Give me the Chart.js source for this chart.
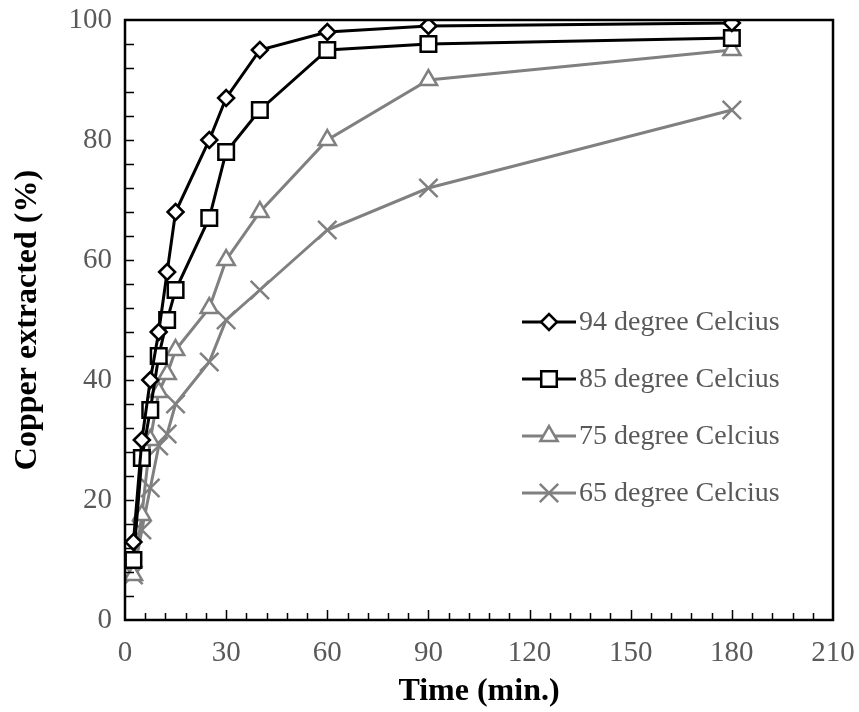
<!DOCTYPE html>
<html>
<head>
<meta charset="utf-8">
<script src="https://cdn.jsdelivr.net/npm/chart.js@4/dist/chart.umd.min.js"></script>
<style>
  html, body { margin: 0; padding: 0; background: #fff; }
  #wrap { width: 859px; height: 712px; }
</style>
</head>
<body>
<div id="wrap"><canvas id="chart"></canvas></div>
<script>
  // Leaching time (min) and copper extracted (%) at each temperature
  const times = [2.5, 5, 7.5, 10, 12.5, 15, 25, 30, 40, 60, 90, 180];
  const cu94 = [13, 30, 40, 48, 58, 68, 80, 87, 95, 98, 99, 99.5];
  const cu85 = [10, 27, 35, 44, 50, 55, 67, 78, 85, 95, 96, 97];
  const cu75 = [7.5, 17.5, 30, 38, 41, 45, 52, 60, 68, 80, 90, 95];
  const cu65 = [7.5, 15, 22, 29, 31, 36, 43, 50, 55, 65, 72, 85];
  const seriesLabels = ["94 degree Celcius", "85 degree Celcius", "75 degree Celcius", "65 degree Celcius"];
  const xTicks = [0, 30, 60, 90, 120, 150, 180, 210];
  const yTicks = [0, 20, 40, 60, 80, 100];

  const serif = "'Liberation Serif', 'Times New Roman', serif";
  const grey = "#808080";
  const labelGrey = "#595959";

  function series(label, values, color, style, radius) {
    return {
      label,
      data: times.map((t, i) => ({ x: t, y: values[i] })),
      borderColor: color,
      borderWidth: 3,
      pointStyle: style,
      pointRadius: radius,
      pointHoverRadius: radius,
      pointBackgroundColor: "#fff",
      pointBorderColor: color,
      pointBorderWidth: 2.5,
      tension: 0
    };
  }

  const datasets = [
    series(seriesLabels[0], cu94, "#000", "rectRot", 8),
    series(seriesLabels[1], cu85, "#000", "rect", 11),
    series(seriesLabels[2], cu75, grey, "triangle", 10),
    series(seriesLabels[3], cu65, grey, "crossRot", 13)
  ];

  // frame around the plot plus inward tick marks
  const framePlugin = {
    id: "frame",
    afterDatasetsDraw(chart) {
      const { ctx, chartArea: a, scales: { x, y } } = chart;
      ctx.save();
      ctx.strokeStyle = "#000";
      ctx.lineWidth = 1.5;
      ctx.beginPath();
      for (let t = 6; t < 210; t += 6) {
        const px = Math.round(x.getPixelForValue(t)) + 0.5;
        const len = t % 30 === 0 ? 10 : 7;
        ctx.moveTo(px, a.bottom);
        ctx.lineTo(px, a.bottom - len);
      }
      for (let v = 4; v < 100; v += 4) {
        const py = Math.round(y.getPixelForValue(v)) + 0.5;
        ctx.moveTo(a.left, py);
        ctx.lineTo(a.left + 9, py);
      }
      ctx.stroke();
      ctx.lineWidth = 2.5;
      ctx.strokeRect(a.left, a.top, a.right - a.left, a.bottom - a.top);
      ctx.restore();
    }
  };

  // legend drawn inside the plot, lower right
  const legendPlugin = {
    id: "innerLegend",
    afterDraw(chart) {
      const { ctx } = chart;
      const x0 = 522, x1 = 576, mx = 549, tx = 579;
      const rows = [322, 379, 436, 493];
      ctx.save();
      chart.data.datasets.forEach((ds, i) => {
        const yy = rows[i];
        ctx.strokeStyle = ds.borderColor;
        ctx.lineWidth = 3;
        ctx.beginPath();
        ctx.moveTo(x0, yy);
        ctx.lineTo(x1, yy);
        ctx.stroke();
        ctx.fillStyle = "#fff";
        ctx.strokeStyle = ds.pointBorderColor;
        ctx.lineWidth = ds.pointBorderWidth;
        Chart.helpers.drawPoint(ctx, {
          pointStyle: ds.pointStyle,
          radius: ds.pointRadius,
          rotation: 0,
          borderWidth: ds.pointBorderWidth
        }, mx, yy);
        ctx.fillStyle = labelGrey;
        ctx.font = "28px " + serif;
        ctx.textAlign = "left";
        ctx.textBaseline = "middle";
        ctx.fillText(ds.label, tx, yy + 1);
      });
      ctx.restore();
    }
  };

  new Chart(document.getElementById("chart"), {
    type: "line",
    data: { datasets },
    plugins: [framePlugin, legendPlugin],
    options: {
      responsive: true,
      maintainAspectRatio: false,
      animation: false,
      layout: { padding: { top: 20, right: 26, left: 0, bottom: 0 } },
      plugins: {
        legend: { display: false },
        tooltip: { enabled: false }
      },
      scales: {
        x: {
          type: "linear",
          min: 0,
          max: 210,
          afterBuildTicks(scale) { scale.ticks = xTicks.map(v => ({ value: v })); },
          afterFit(scale) {
            scale.height = 92;
            scale.paddingLeft = 0;
            scale.paddingRight = 0;
          },
          grid: { display: false, drawTicks: false },
          border: { display: false },
          ticks: {
            color: labelGrey,
            padding: 16,
            maxRotation: 0,
            font: { family: serif, size: 29 }
          },
          title: {
            display: true,
            text: "Time (min.)",
            color: "#000",
            padding: { top: 0, bottom: 1 },
            font: { family: serif, size: 32, weight: "bold" }
          }
        },
        y: {
          min: 0,
          max: 100,
          afterBuildTicks(scale) { scale.ticks = yTicks.map(v => ({ value: v })); },
          afterFit(scale) {
            scale.width = 125;
            scale.paddingTop = 0;
            scale.paddingBottom = 0;
          },
          grid: { display: false, drawTicks: false },
          border: { display: false },
          ticks: {
            color: labelGrey,
            padding: 13,
            font: { family: serif, size: 29 }
          },
          title: {
            display: true,
            text: "Copper extracted (%)",
            color: "#000",
            padding: { top: 9, bottom: 0 },
            font: { family: serif, size: 32, weight: "bold" }
          }
        }
      }
    }
  });
</script>
</body>
</html>
